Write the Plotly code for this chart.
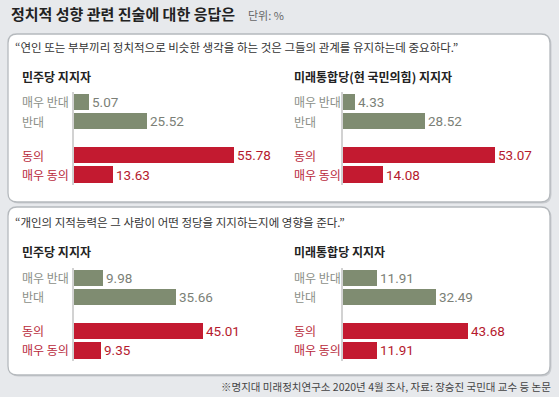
import plotly.graph_objects as go

W, H = 559, 397

title_main = "정치적 성향 관련 진술에 대한 응답은"
title_unit = "단위: %"
quotes = ["“연인 또는 부부끼리 정치적으로 비슷한 생각을 하는 것은 그들의 관계를 유지하는데 중요하다.”",
          "“개인의 지적능력은 그 사람이 어떤 정당을 지지하는지에 영향을 준다.”"]
subtitles = [["민주당 지지자", "미래통합당(현 국민의힘) 지지자"],
             ["민주당 지지자", "미래통합당 지지자"]]
categories = ["매우 반대", "반대", "동의", "매우 동의"]
cat_pos = [0, 1, 2.75, 3.75]
values = [
    [[5.07, 25.52, 55.78, 13.63], [4.33, 28.52, 53.07, 14.08]],
    [[9.98, 35.66, 45.01, 9.35], [11.91, 32.49, 43.68, 11.91]],
]
footer = "※명지대 미래정치연구소 2020년 4월 조사, 자료: 장승진 국민대 교수 등 논문"

GRAY_BAR = "#7f8c71"
RED_BAR = "#c31a30"
GRAY_TXT = "#7b7f77"
RED_TXT = "#b51a2e"
bar_colors = [GRAY_BAR, GRAY_BAR, RED_BAR, RED_BAR]
txt_colors = [GRAY_TXT, GRAY_TXT, RED_TXT, RED_TXT]
lab_colors = ["#8b8f88", "#8b8f88", "#b8283a", "#b8283a"]

FONT = "Noto Sans CJK KR"
NUMFONT = "Roboto"

def px(x):
    return x / W

def py(y):
    return 1 - y / H

xdom = [[px(74), px(74 + 65 * 2.87)], [px(343), px(343 + 65 * 2.87)]]
unit = 19.6
first_center = [102, 277.3]
ydom = []
for c in first_center:
    top = c - 0.5 * unit
    bot = c + 4.25 * unit
    ydom.append([py(bot), py(top)])

fig = go.Figure()
annotations = []
label_x = [20, 292]

def ann(x, y, text, size, color, anchor="left"):
    return dict(x=px(x), y=py(y), xref="paper", yref="paper", text=text, showarrow=False,
                xanchor=anchor, yanchor="middle", font=dict(family=FONT, size=size, color=color))

k = 0
for r in range(2):
    for c in range(2):
        k += 1
        xa = "x" if k == 1 else "x%d" % k
        ya = "y" if k == 1 else "y%d" % k
        vals = values[r][c]
        fig.add_trace(go.Bar(
            x=vals, y=cat_pos, orientation="h", width=0.84,
            marker=dict(color=bar_colors, line=dict(width=0)),
            text=["%.2f" % v for v in vals], textposition="outside",
            textfont=dict(family=NUMFONT, size=13.5, color=txt_colors),
            constraintext="none", cliponaxis=False,
            xaxis=xa, yaxis=ya, hoverinfo="skip", showlegend=False,
        ))
        fig.layout["xaxis" if k == 1 else "xaxis%d" % k] = dict(
            domain=xdom[c], range=[0, 65], visible=False, fixedrange=True,
            anchor=ya)
        fig.layout["yaxis" if k == 1 else "yaxis%d" % k] = dict(
            domain=ydom[r], range=[4.3, -0.5], anchor=xa,
            showticklabels=False, ticks="",
            showgrid=False, zeroline=False, showline=True,
            linecolor="#d2d2d2", linewidth=1.5, fixedrange=True)
        for i, cat in enumerate(categories):
            annotations.append(dict(x=px(label_x[c]), y=cat_pos[i], xref="paper", yref=ya,
                                    text=cat, showarrow=False, xanchor="left", yanchor="middle",
                                    font=dict(family=FONT, size=12, color=lab_colors[i])))

# boxes
def rounded(x0, y0, x1, y1, r):
    rx, ry = r / W, r / H
    X0, X1 = px(x0), px(x1)
    Y0, Y1 = py(y0), py(y1)  # Y0 top
    return (f"M {X0+rx},{Y0} L {X1-rx},{Y0} Q {X1},{Y0} {X1},{Y0-ry} "
            f"L {X1},{Y1+ry} Q {X1},{Y1} {X1-rx},{Y1} L {X0+rx},{Y1} "
            f"Q {X0},{Y1} {X0},{Y1+ry} L {X0},{Y0-ry} Q {X0},{Y0} {X0+rx},{Y0} Z")

shapes = []
for (y0, y1) in [(34, 202), (207, 375)]:
    shapes.append(dict(type="path", path=rounded(9.5, y0 + 1.5, 551.5, y1 + 1.5, 9),
                       xref="paper", yref="paper", fillcolor="#c9ccd0",
                       line=dict(width=0), layer="below"))
    shapes.append(dict(type="path", path=rounded(8, y0, 550, y1, 9),
                       xref="paper", yref="paper", fillcolor="#ffffff",
                       line=dict(color="#b5b9bd", width=1.3), layer="below"))

annotations += [
    ann(9, 14, "<b>" + title_main + "</b>", 15, "#222222"),
    ann(246, 15, title_unit, 11, "#666666"),
    ann(553, 386, footer, 10.5, "#444444", "right"),
]
quote_y = [47, 222]
sub_y = [76, 251]
sub_x = [20, 292]
for r in range(2):
    annotations.append(ann(13, quote_y[r], quotes[r], 11.5, "#333333"))
    for c in range(2):
        annotations.append(ann(sub_x[c], sub_y[r], "<b>" + subtitles[r][c] + "</b>", 12, "#222222"))

fig.update_layout(
    width=W, height=H, margin=dict(l=0, r=0, t=0, b=0),
    paper_bgcolor="#e7e9ec", plot_bgcolor="rgba(0,0,0,0)",
    shapes=shapes, annotations=annotations, bargap=0,
    font=dict(family=FONT),
)

fig.write_html("out.html", config={"displayModeBar": False},
               post_script="document.body.style.margin='0';document.body.style.padding='0';")
